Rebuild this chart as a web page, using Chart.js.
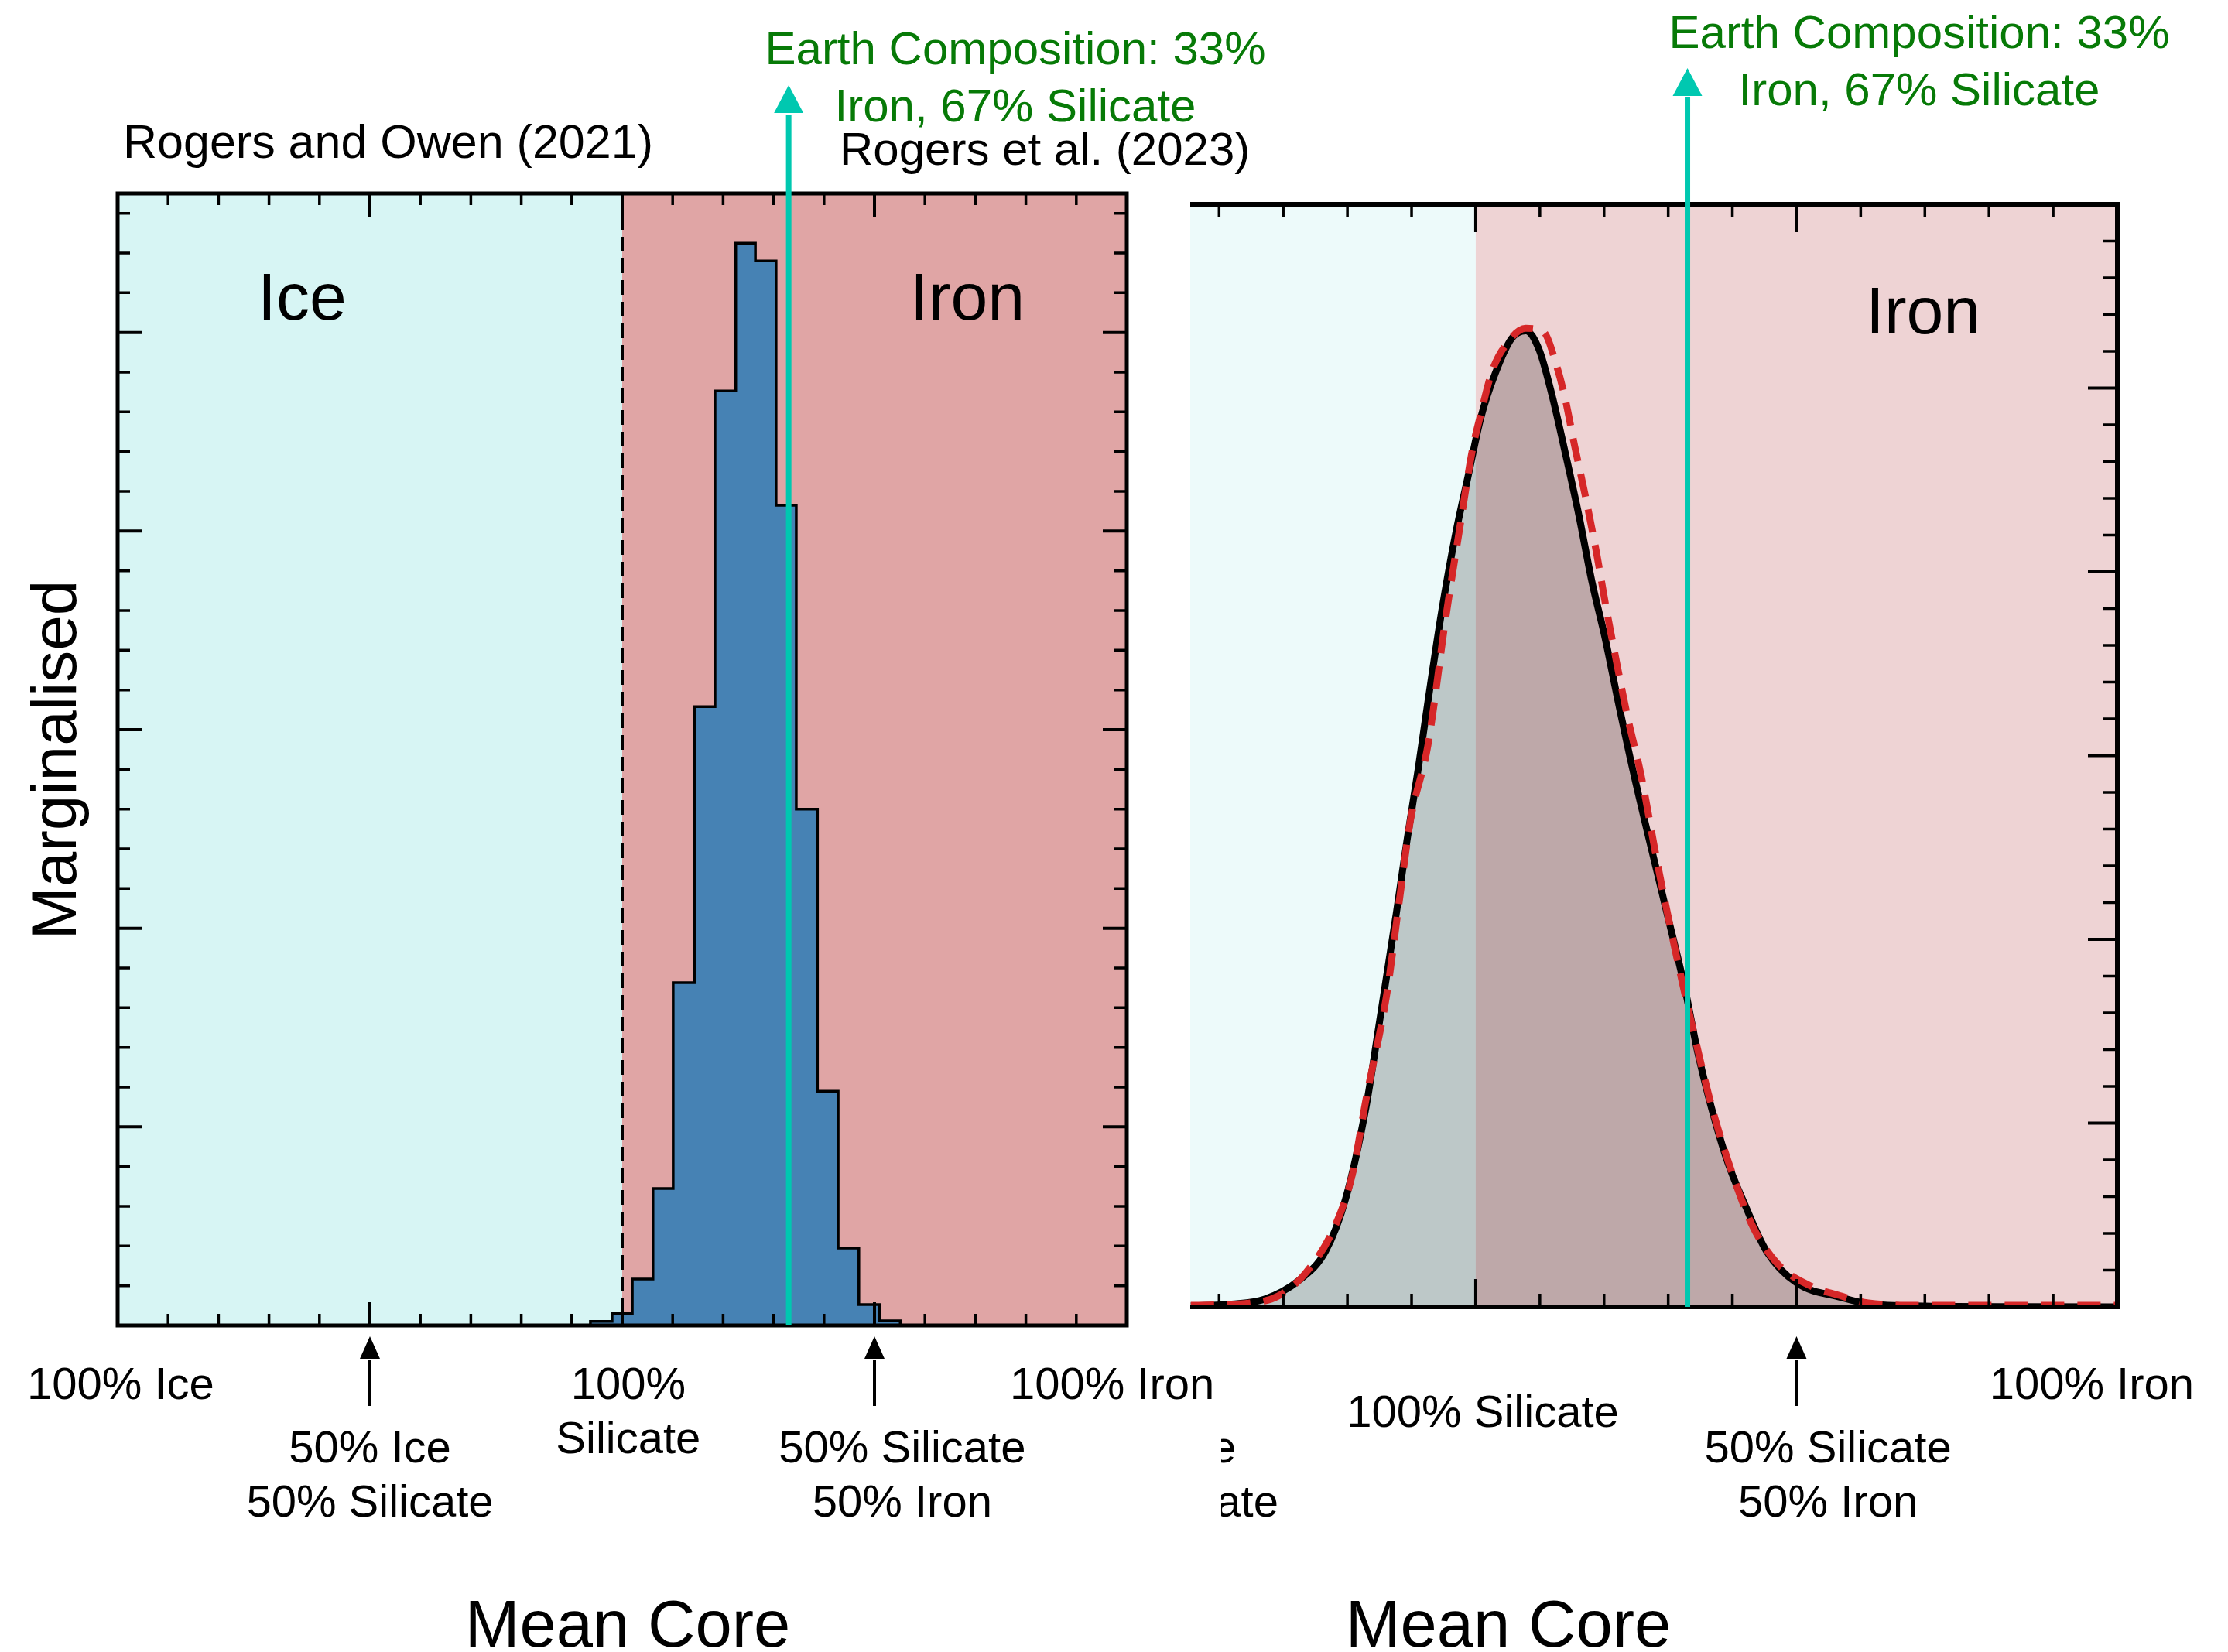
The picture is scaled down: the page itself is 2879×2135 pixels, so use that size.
<!DOCTYPE html>
<html>
<head>
<meta charset="utf-8">
<title>Mean core composition</title>
<script src="https://cdn.jsdelivr.net/npm/chart.js@4/dist/chart.umd.min.js"></script>
<style>
  html, body { margin: 0; padding: 0; background: #ffffff; width: 2879px; height: 2135px; overflow: hidden; }
  .panel { position: absolute; top: 0; }
  #wrapLeft { left: 0; width: 1700px; height: 2135px; }
  #wrapRight { left: 1500px; width: 1379px; height: 2135px; }
</style>
</head>
<body>
<div id="wrapLeft" class="panel"><canvas id="histChart" width="1700" height="2135"></canvas></div>
<div id="wrapRight" class="panel"><canvas id="kdeChart" width="1379" height="2135"></canvas></div>
<script>
// Composition axis: -1 = 100% ice, 0 = 100% silicate, +1 = 100% iron.

// Left panel (Rogers and Owen 2021): histogram of the mean core composition
const histBinEdges = [-0.063, -0.020, 0.020, 0.061, 0.101, 0.143, 0.184, 0.225,
                      0.264, 0.305, 0.345, 0.387, 0.428, 0.469, 0.510, 0.551];
const histCounts   = [0.02, 0.06, 0.234, 0.69, 1.726, 3.116, 4.706, 5.45,
                      5.36, 4.13, 2.60, 1.18, 0.39, 0.105, 0.023];

// Right panel (Rogers et al. 2023): smoothed marginalised distributions
const solidCurveX = [-0.444, -0.380, -0.329, -0.276, -0.234, -0.203, -0.171, -0.150, -0.124, -0.107,
                     -0.090, -0.0745, -0.053, -0.032, -0.012, 0.008, 0.030, 0.056, 0.078, 0.099,
                     0.119, 0.139, 0.161, 0.181, 0.202, 0.222, 0.246, 0.294, 0.326, 0.347,
                     0.389, 0.421, 0.453, 0.500, 0.570, 0.612, 0.700, 0.850, 1.000];
const solidCurveY = [0.005, 0.015, 0.042, 0.143, 0.304, 0.586, 1.088, 1.551, 2.137, 2.542,
                     2.920, 3.293, 3.786, 4.195, 4.519, 4.840, 5.076, 5.270, 5.312, 5.207,
                     4.960, 4.656, 4.304, 3.948, 3.634, 3.293, 2.905, 2.201, 1.733, 1.370,
                     0.826, 0.544, 0.304, 0.131, 0.051, 0.017, 0.004, 0.001, 0.000];
const dashedCurveX = [-0.444, -0.351, -0.308, -0.266, -0.219, -0.192, -0.171, -0.139, -0.118, -0.102,
                      -0.0745, -0.047, -0.025, -0.005, 0.008, 0.026, 0.050, 0.078, 0.106, 0.126,
                      0.139, 0.154, 0.171, 0.189, 0.202, 0.216, 0.237, 0.257, 0.284, 0.310,
                      0.337, 0.368, 0.400, 0.431, 0.469, 0.517, 0.570, 0.612, 0.700, 0.850, 1.000];
const dashedCurveY = [0.008, 0.021, 0.059, 0.181, 0.443, 0.725, 1.130, 1.695, 2.239, 2.643,
                      3.057, 3.744, 4.237, 4.667, 4.861, 5.097, 5.249, 5.325, 5.304, 5.122,
                      4.949, 4.688, 4.410, 4.089, 3.828, 3.571, 3.204, 2.905, 2.399, 1.956,
                      1.535, 1.088, 0.725, 0.443, 0.240, 0.122, 0.059, 0.021, 0.008, 0.008, 0.008];

// Earth's core: 33% iron, 67% silicate
const earthComposition = 0.33;
const earthLabel = ['Earth Composition: 33%', 'Iron, 67% Silicate'];

// Composition tick labels (lines) and where they sit on the axis
const leftTickLabels   = [['100% Ice'], ['50% Ice', '50% Silicate'], ['100%', 'Silicate'],
                          ['50% Silicate', '50% Iron'], ['100% Iron']];
const leftTickLabelAt  = [-0.994, -0.5, 0.012, 0.555, 0.971];
const leftTickLabelTop = [1808, 1890, 1808, 1890, 1808];
const leftArrowsAt     = [-0.5, 0.5];

const rightTickLabels   = [['50% Ice', '50% Silicate'], ['100% Silicate'],
                           ['50% Silicate', '50% Iron'], ['100% Iron']];
const rightTickLabelAt  = [-0.5, 0.011, 0.549, 0.96];
const rightTickLabelTop = [1890, 1844, 1890, 1808];
const rightArrowsAt     = [0.5];

const FONT = "'Liberation Sans', Arial, Helvetica, sans-serif";
const TEAL = '#00c8b0';
const GREEN = '#077a07';

Chart.defaults.font.family = FONT;

function stepValues(from, to, step, skip) {
  const out = [];
  for (let v = from; v <= to + 1e-9; v += step) {
    const r = Math.round(v * 1000) / 1000;
    if (!skip.some(s => Math.abs(s - r) < 1e-6)) out.push(r);
  }
  return out;
}

function drawText(ctx, str, x, y, size, color, align) {
  ctx.font = size + 'px ' + FONT;
  ctx.fillStyle = color;
  ctx.textAlign = align || 'center';
  ctx.textBaseline = 'alphabetic';
  ctx.fillText(str, x, y);
}

function drawArrowUp(ctx, x, yBottom, yHeadBase, yTip, headW, lineW, color) {
  ctx.save();
  ctx.strokeStyle = color;
  ctx.fillStyle = color;
  ctx.lineWidth = lineW;
  ctx.lineCap = 'butt';
  ctx.beginPath();
  ctx.moveTo(x, yBottom);
  ctx.lineTo(x, yHeadBase + 2);
  ctx.stroke();
  ctx.beginPath();
  ctx.moveTo(x - headW / 2, yHeadBase);
  ctx.lineTo(x + headW / 2, yHeadBase);
  ctx.lineTo(x, yTip);
  ctx.closePath();
  ctx.fill();
  ctx.restore();
}

// Panel decoration: coloured regions, frame, inward ticks, Earth marker and text
function panelDecor(cfg) {
  return {
    id: 'panelDecor',
    beforeDatasetsDraw(chart) {
      const { ctx, chartArea: ca, scales: { x } } = chart;
      const split = x.getPixelForValue(0);
      ctx.save();
      ctx.fillStyle = cfg.iceColor;
      ctx.fillRect(ca.left, ca.top, split - ca.left, ca.bottom - ca.top);
      ctx.fillStyle = cfg.ironColor;
      ctx.fillRect(split, ca.top, ca.right - split, ca.bottom - ca.top);
      ctx.restore();
    },
    afterDatasetsDraw(chart) {
      const { ctx, chartArea: ca, scales: { x, y } } = chart;
      ctx.save();
      if (cfg.dashedAt !== undefined) {
        const px = x.getPixelForValue(cfg.dashedAt);
        ctx.strokeStyle = '#000';
        ctx.lineWidth = 4;
        ctx.setLineDash([19, 9]);
        ctx.beginPath();
        ctx.moveTo(px, ca.top);
        ctx.lineTo(px, ca.bottom);
        ctx.stroke();
        ctx.setLineDash([]);
      }
      // frame
      ctx.strokeStyle = '#000';
      ctx.lineWidth = cfg.frameWidth;
      ctx.lineJoin = 'miter';
      ctx.beginPath();
      if (cfg.leftSpine) {
        ctx.moveTo(ca.left, ca.bottom);
        ctx.lineTo(ca.left, ca.top);
      } else {
        ctx.moveTo(ca.left, ca.top);
      }
      ctx.lineTo(ca.right, ca.top);
      ctx.lineTo(ca.right, ca.bottom);
      ctx.lineTo(ca.left, ca.bottom);
      if (cfg.leftSpine) ctx.closePath();
      ctx.stroke();
      // ticks
      ctx.lineCap = 'butt';
      const xTicks = [[cfg.xMajor, cfg.xMajorLen, 4], [cfg.xMinor, cfg.xMinorLen, 3.5]];
      xTicks.forEach(([vals, len, w]) => {
        ctx.lineWidth = w;
        vals.forEach(v => {
          const px = x.getPixelForValue(v);
          ctx.beginPath();
          ctx.moveTo(px, ca.bottom);
          ctx.lineTo(px, ca.bottom - len);
          ctx.moveTo(px, ca.top);
          ctx.lineTo(px, ca.top + len);
          ctx.stroke();
        });
      });
      const yTicks = [[cfg.yMajor, cfg.yMajorLen, 4], [cfg.yMinor, cfg.yMinorLen, 3.5]];
      yTicks.forEach(([vals, len, w]) => {
        ctx.lineWidth = w;
        vals.forEach(v => {
          const py = y.getPixelForValue(v);
          ctx.beginPath();
          if (cfg.leftSpine) {
            ctx.moveTo(ca.left, py);
            ctx.lineTo(ca.left + len, py);
          }
          ctx.moveTo(ca.right, py);
          ctx.lineTo(ca.right - len, py);
          ctx.stroke();
        });
      });
      ctx.restore();
      // Earth composition marker
      const ex = x.getPixelForValue(earthComposition);
      drawArrowUp(ctx, ex, ca.bottom, cfg.earthHeadBase, cfg.earthTip, 38, 7, TEAL);
    },
    afterDraw(chart) {
      const { ctx, scales: { x } } = chart;
      const off = cfg.pageLeft;
      ctx.save();
      ctx.translate(-off, 0);
      // composition labels below the axis
      ctx.save();
      if (cfg.labelClipLeft !== undefined) {
        ctx.beginPath();
        ctx.rect(cfg.labelClipLeft, 0, 4000, 2135);
        ctx.clip();
      }
      cfg.tickLabels.forEach((lines, i) => {
        const px = x.getPixelForValue(cfg.tickLabelAt[i]) + off;
        lines.forEach((line, j) => {
          drawText(ctx, line, px, cfg.tickLabelTop[i] + j * 70, 58, '#000', 'center');
        });
      });
      ctx.restore();
      cfg.arrowsAt.forEach(v => {
        const px = x.getPixelForValue(v) + off;
        drawArrowUp(ctx, px, 1817, 1756, 1727, 26, 4, '#000');
      });
      // Earth composition text
      drawText(ctx, earthLabel[0], cfg.earthTextX, cfg.earthTextY, 60, GREEN, 'center');
      drawText(ctx, earthLabel[1], cfg.earthTextX, cfg.earthTextY + 74, 60, GREEN, 'center');
      // region names
      cfg.regionText.forEach(t => drawText(ctx, t.text, t.x, t.y, 86, '#000', 'left'));
      // source labels
      (cfg.sourceText || []).forEach(t => drawText(ctx, t.text, t.x, t.y, t.size, '#000', 'left'));
      // axis titles
      drawText(ctx, 'Mean Core', cfg.xTitleX, 2128, 85, '#000', 'center');
      if (cfg.yTitle) {
        ctx.save();
        ctx.translate(98, 982);
        ctx.rotate(-Math.PI / 2);
        drawText(ctx, cfg.yTitle, 0, 0, 82, '#000', 'center');
        ctx.restore();
      }
      ctx.restore();
    }
  };
}

const histPoints = [{ x: histBinEdges[0], y: 0 }];
histCounts.forEach((c, i) => histPoints.push({ x: histBinEdges[i], y: c }));
histPoints.push({ x: histBinEdges[histBinEdges.length - 1], y: 0 });

new Chart(document.getElementById('histChart'), {
  type: 'line',
  data: {
    datasets: [{
      label: 'Mean core composition',
      data: histPoints,
      stepped: 'before',
      fill: 'origin',
      backgroundColor: '#4682b4',
      borderColor: '#000000',
      borderWidth: 3.5,
      pointRadius: 0
    }]
  },
  options: {
    responsive: false,
    devicePixelRatio: 1,
    animation: false,
    events: [],
    layout: { padding: { left: 152, right: 244, top: 250, bottom: 422 } },
    scales: {
      x: { type: 'linear', min: -1, max: 1, display: false },
      y: { type: 'linear', min: 0, max: 5.7, display: false }
    },
    plugins: { legend: { display: false }, tooltip: { enabled: false } }
  },
  plugins: [panelDecor({
    pageLeft: 0,
    iceColor: '#d7f5f4',
    ironColor: '#e0a5a5',
    leftSpine: true,
    frameWidth: 5,
    dashedAt: 0,
    xMajor: [-0.5, 0, 0.5],
    xMinor: stepValues(-0.9, 0.9, 0.1, [-0.5, 0, 0.5]),
    xMajorLen: 30, xMinorLen: 15,
    yMajor: [1, 2, 3, 4, 5],
    yMinor: stepValues(0.2, 5.6, 0.2, [1, 2, 3, 4, 5]),
    yMajorLen: 31, yMinorLen: 16,
    earthHeadBase: 146, earthTip: 110,
    tickLabels: leftTickLabels, tickLabelAt: leftTickLabelAt, tickLabelTop: leftTickLabelTop,
    arrowsAt: leftArrowsAt,
    earthTextX: 1312, earthTextY: 83,
    regionText: [{ text: 'Ice', x: 333, y: 413 }, { text: 'Iron', x: 1176, y: 413 }],
    sourceText: [{ text: 'Rogers and Owen (2021)', x: 159, y: 204, size: 61 },
                 { text: 'Rogers et al. (2023)', x: 1085, y: 213, size: 60 }],
    xTitleX: 811,
    yTitle: 'Marginalised'
  })]
});

new Chart(document.getElementById('kdeChart'), {
  type: 'line',
  data: {
    datasets: [
      {
        label: 'dashed',
        data: dashedCurveX.map((v, i) => ({ x: v, y: dashedCurveY[i] })),
        borderColor: '#d62728',
        borderWidth: 9,
        borderDash: [30, 17],
        cubicInterpolationMode: 'monotone',
        fill: false,
        pointRadius: 0
      },
      {
        label: 'solid',
        data: solidCurveX.map((v, i) => ({ x: v, y: solidCurveY[i] })),
        borderColor: '#000000',
        borderWidth: 9,
        cubicInterpolationMode: 'monotone',
        fill: 'origin',
        backgroundColor: 'rgba(0,0,0,0.2)',
        pointRadius: 0
      }
    ]
  },
  options: {
    responsive: false,
    devicePixelRatio: 1,
    animation: false,
    events: [],
    layout: { padding: { left: 38, right: 143, top: 264, bottom: 446 } },
    scales: {
      x: { type: 'linear', min: -0.445, max: 1.0, display: false },
      y: { type: 'linear', min: 0, max: 6.0, display: false }
    },
    plugins: { legend: { display: false }, tooltip: { enabled: false } }
  },
  plugins: [panelDecor({
    pageLeft: 1500,
    iceColor: '#edfafa',
    ironColor: '#eed3d4',
    leftSpine: false,
    frameWidth: 6,
    xMajor: [0, 0.5],
    xMinor: stepValues(-0.4, 0.9, 0.1, [0, 0.5]),
    xMajorLen: 36, xMinorLen: 17,
    yMajor: [1, 2, 3, 4, 5],
    yMinor: stepValues(0.2, 5.8, 0.2, [1, 2, 3, 4, 5]),
    yMajorLen: 38, yMinorLen: 18,
    earthHeadBase: 124, earthTip: 88,
    tickLabels: rightTickLabels, tickLabelAt: rightTickLabelAt, tickLabelTop: rightTickLabelTop,
    labelClipLeft: 1578,
    arrowsAt: rightArrowsAt,
    earthTextX: 2480, earthTextY: 62,
    regionText: [{ text: 'Iron', x: 2411, y: 431 }],
    xTitleX: 1949
  })]
});
</script>
</body>
</html>
